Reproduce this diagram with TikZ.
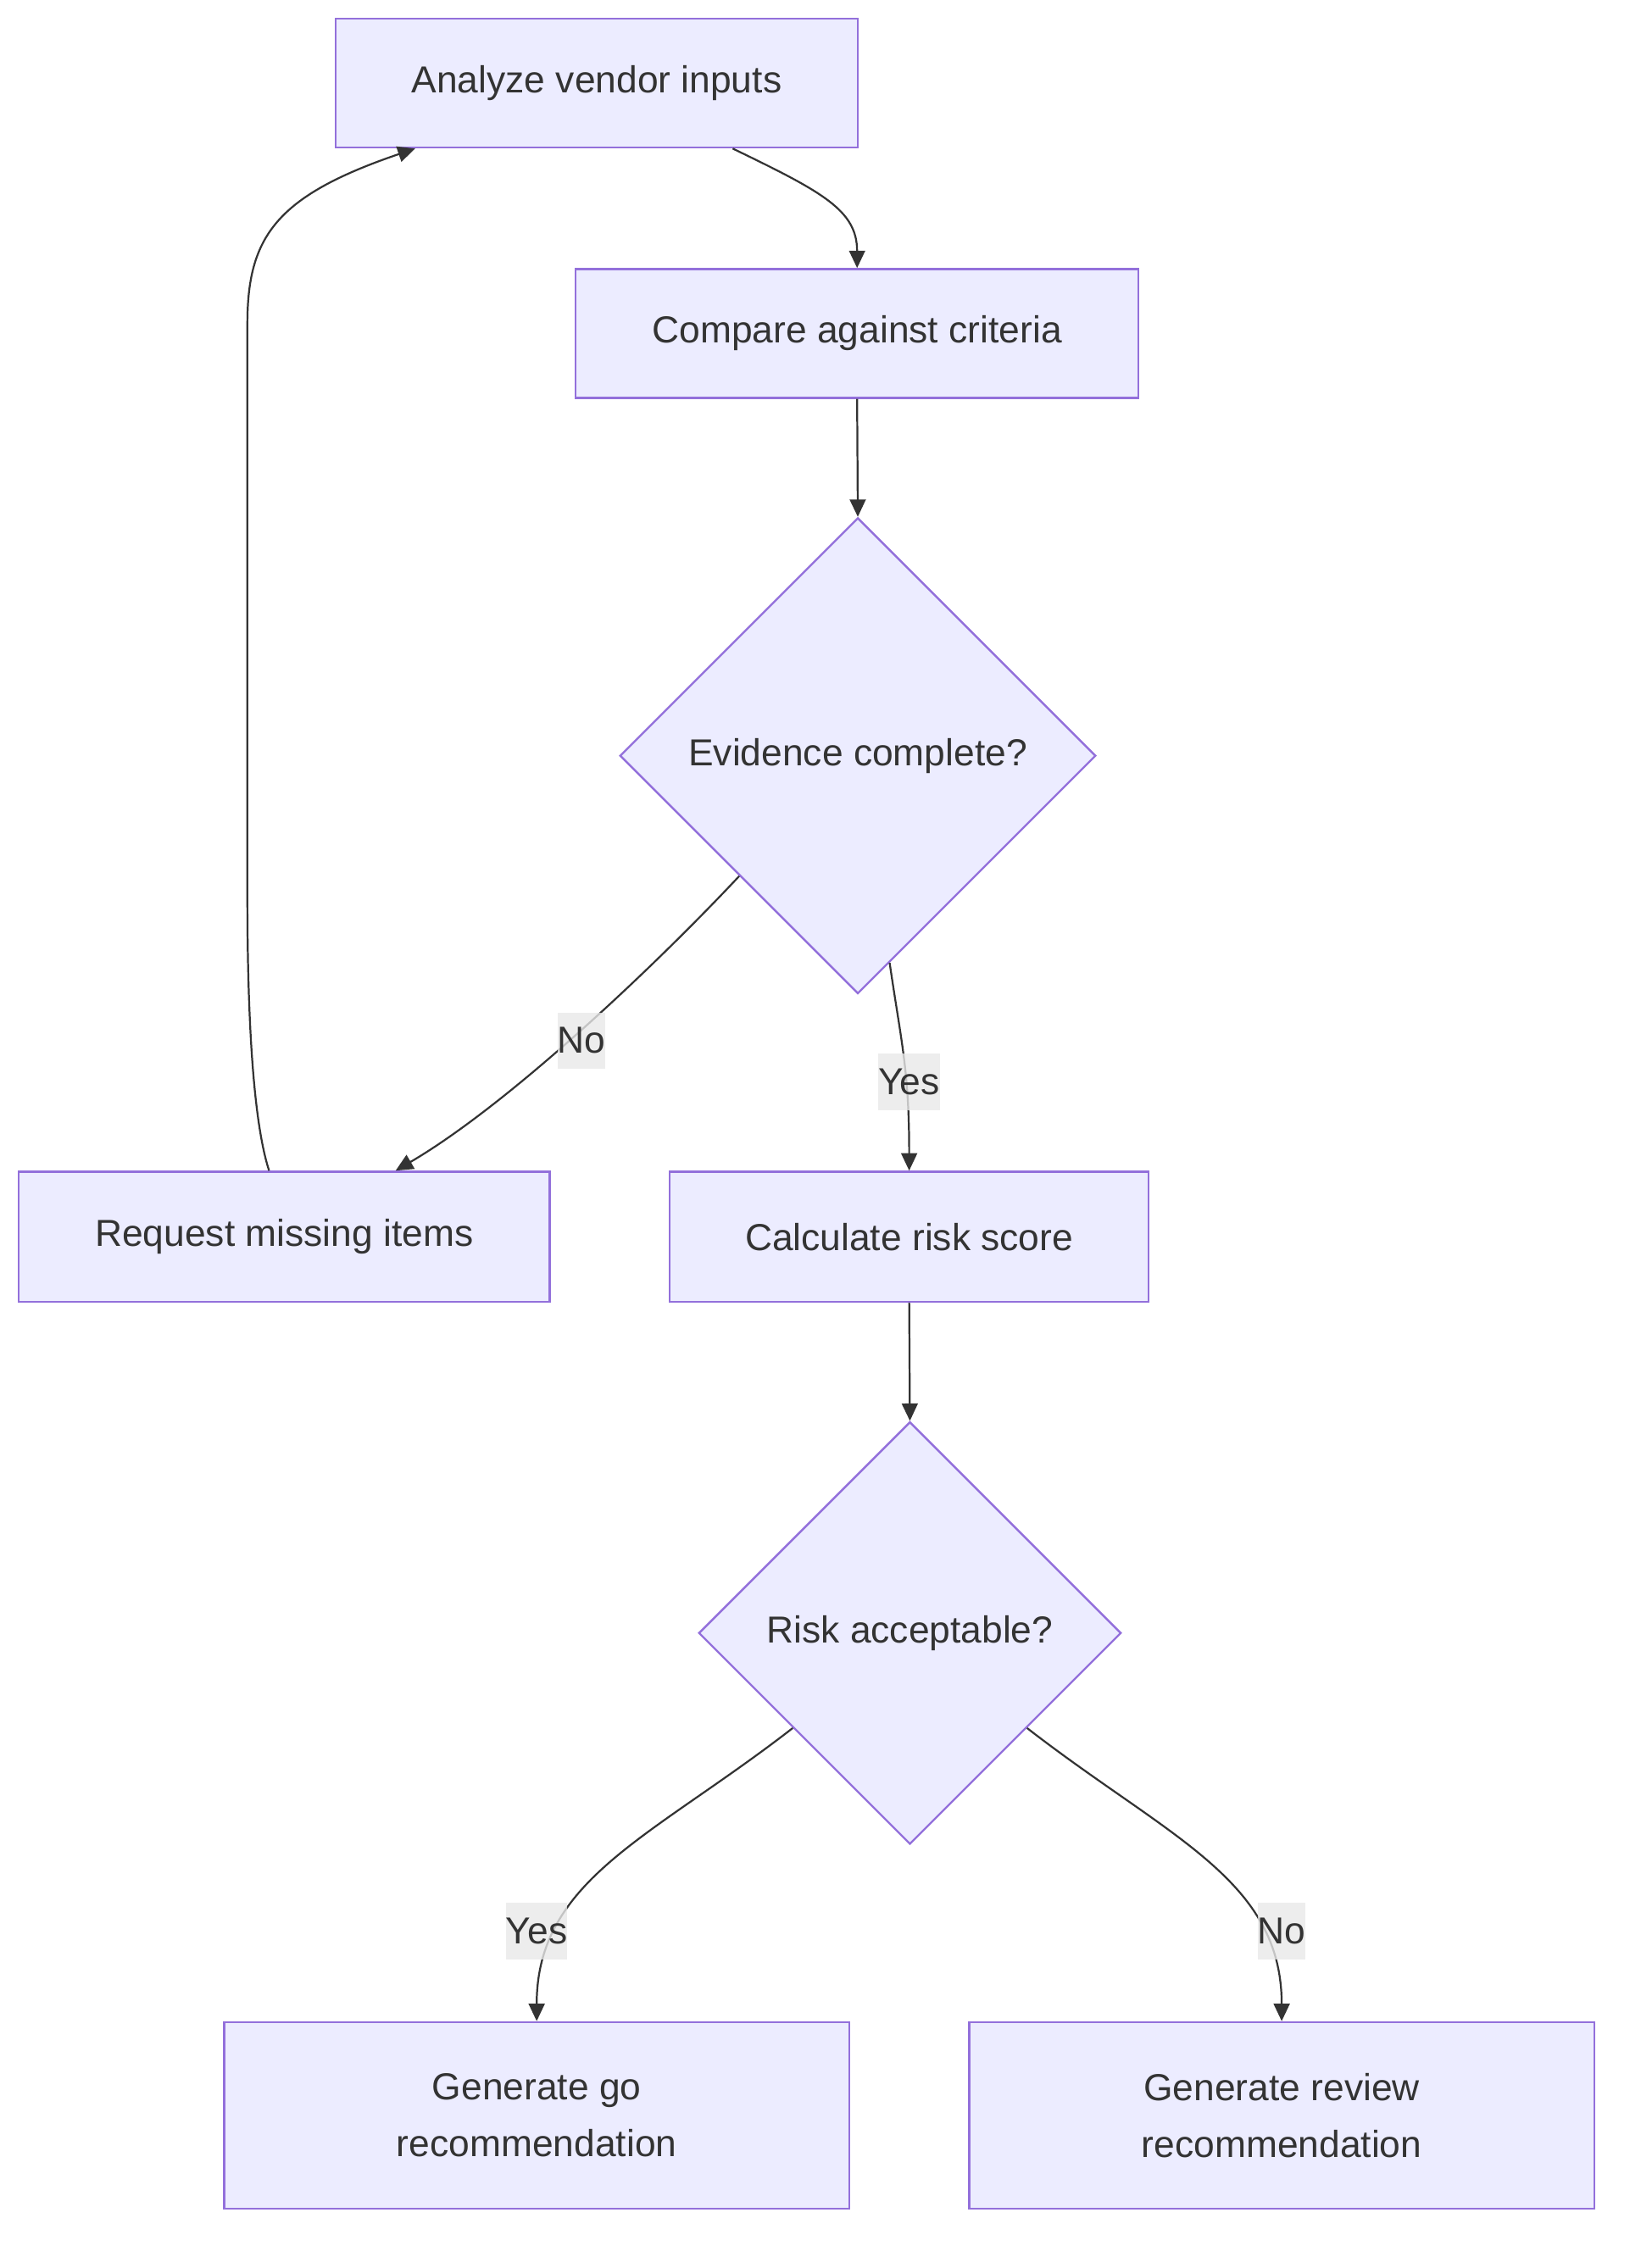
\documentclass[tikz,border=0pt]{standalone}
\usepackage{fontspec}
\setmainfont{Liberation Sans}
\usepackage{tikz}
\usetikzlibrary{arrows.meta, shapes.geometric}
\definecolor{boxfill}{HTML}{ECECFF}
\definecolor{boxline}{HTML}{9370DB}
\definecolor{inkc}{HTML}{333333}
\definecolor{lblbg}{HTML}{E8E8E8}
\newcommand{\stepbox}[5]{%
  \node[procbox, minimum width=#3, minimum height=#4] (#1) at #2 {#5};
}
\newcommand{\decide}[4]{%
  \node[decision, minimum size=#3] (#1) at #2 {#4};
}
\newcommand{\edgelbl}[3]{%
  \node[lbl] (#1) at #2 {#3};
}

\begin{document}
\begin{tikzpicture}[x=1pt, y=-1pt, >={Triangle[length=12pt, width=11pt]},
    line width=1.3pt, font={\fontsize{26}{39}\selectfont}, text=inkc,
    procbox/.style={rectangle, draw=boxline, fill=boxfill, line width=1.4pt,
      inner sep=0pt, align=center},
    decision/.style={diamond, aspect=1, draw=boxline, fill=boxfill,
      line width=1.4pt, inner sep=0pt},
    lbl/.style={fill=lblbg, fill opacity=0.8, text opacity=1,
      inner xsep=0pt, inner ysep=0pt, minimum height=39pt},
    flow/.style={->, draw=inkc}]
  \useasboundingbox (0,0) rectangle (1134,1568);
  \stepbox{analyze}{(412.5,57.5)}{361pt}{89pt}{Analyze vendor inputs}
  \stepbox{compare}{(592.5,230.5)}{389pt}{89pt}{Compare against criteria}
  \decide{evid}{(593,522.5)}{329pt}{Evidence complete?}
  \stepbox{request}{(196.5,855)}{367pt}{90pt}{Request missing items}
  \stepbox{calc}{(628.5,855)}{331pt}{90pt}{Calculate risk score}
  \decide{risk}{(629,1129)}{292pt}{Risk acceptable?}
  \stepbox{gogen}{(371,1462.5)}{432pt}{129pt}{Generate go\\recommendation}
  \stepbox{revgen}{(886,1462.5)}{432pt}{129pt}{Generate review\\recommendation}

  \draw[flow] ([xshift=94pt]analyze.south) .. controls +(62,30) and +(0,-40) .. (compare.north);
  \draw[flow] (compare.south) -- (evid.north);
  \draw[flow] ([shift={(-82,-82)}]evid.south) .. controls +(-61,65) and +(77,-45) .. ([xshift=77pt]request.north);
  \draw[flow] ([shift={(22,-22)}]evid.south) .. controls +(8,55) and +(0,-70) .. (calc.north);
  \draw[flow] ([xshift=-10.5pt]request.north) .. controls +(-13,-40) and +(0,60) .. ++(-15,-190)
    -- ++(0,-395) .. controls +(0,-60) and +(-97,33) .. ([xshift=-125.5pt]analyze.south);
  \draw[flow] (calc.south) -- (risk.north);
  \draw[flow] ([shift={(-81,-81)}]risk.south) .. controls +(-98,76) and +(0,-98) .. (gogen.north);
  \draw[flow] ([shift={(81,-81)}]risk.south) .. controls +(98,76) and +(0,-98) .. (revgen.north);

  \edgelbl{nomiss}{(402,719.5)}{No}
  \edgelbl{yesfull}{(628.5,748)}{Yes}
  \edgelbl{yesok}{(371,1335)}{Yes}
  \edgelbl{nook}{(886,1335)}{No}
\end{tikzpicture}
\end{document}
